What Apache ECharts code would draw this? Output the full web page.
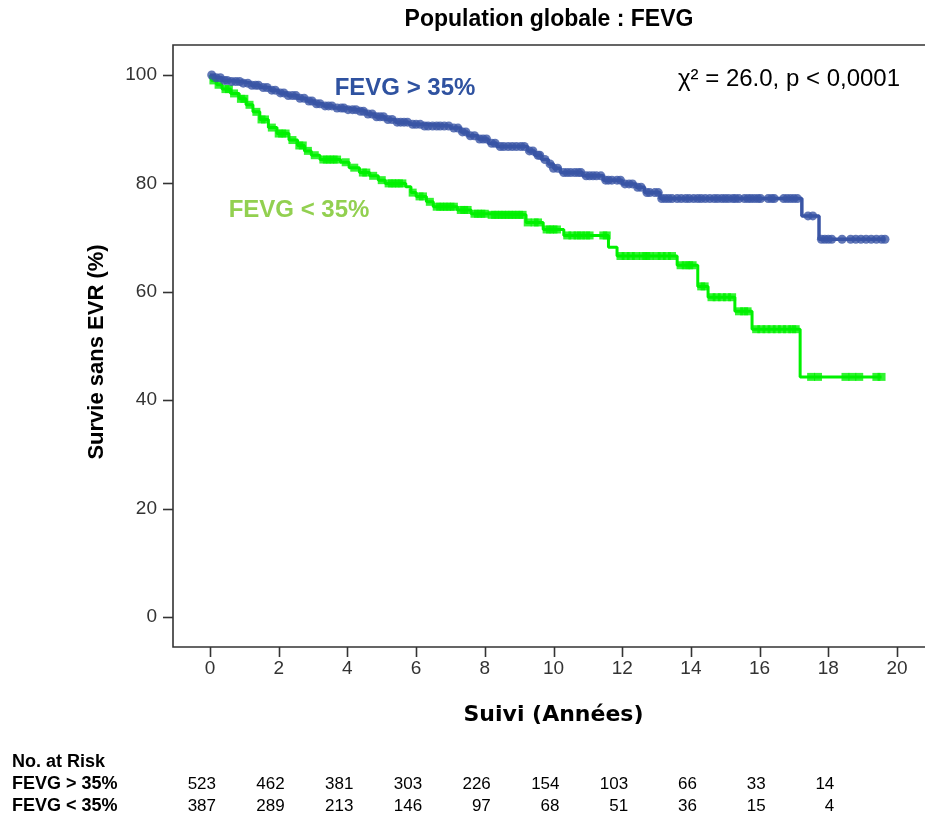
<!DOCTYPE html>
<html>
<head>
<meta charset="utf-8">
<script src="https://cdn.jsdelivr.net/npm/echarts@6/dist/echarts.min.js"></script>
<style>
  html, body { margin: 0; padding: 0; background: #fff; }
  #chart { width: 925px; height: 819px; }
</style>
</head>
<body>
<div id="chart"></div>
<script>
// Kaplan-Meier steps: [time (years), survival (%) from that time on]
const stepsHigh = [
  [0,100],[0.15,99.5],[0.35,99.0],[0.6,98.8],[0.9,98.5],[1.2,98.1],[1.45,97.7],[1.75,97.2],
  [2.0,96.7],[2.25,96.2],[2.55,95.7],[2.8,95.2],[3.05,94.7],[3.3,94.3],[3.6,93.9],[3.95,93.6],
  [4.3,93.3],[4.55,92.8],[4.8,92.3],[5.1,91.8],[5.4,91.3],[5.8,90.9],[6.2,90.6],[7.0,90.2],
  [7.3,89.5],[7.5,88.8],[7.8,88.2],[8.1,87.4],[8.35,86.8],[9.25,86.0],[9.45,85.2],[9.65,84.4],
  [9.85,83.6],[10.0,82.8],[10.2,82.0],[10.85,81.4],[11.45,80.6],[12.0,79.9],[12.4,79.3],
  [12.65,78.3],[13.1,77.2],[17.23,74.0],[17.73,69.7],[19.65,69.7]
];
const stepsLow = [
  [0,100],[0.05,99.0],[0.2,98.2],[0.35,97.4],[0.6,96.6],[0.85,95.6],[1.05,94.5],[1.25,93.2],
  [1.45,91.8],[1.7,90.3],[1.95,89.2],[2.3,88.0],[2.55,87.0],[2.75,86.0],[2.95,85.2],[3.2,84.4],
  [3.8,83.9],[4.05,82.9],[4.35,82.0],[4.65,81.4],[4.9,80.6],[5.1,80.0],[5.7,79.4],[5.85,78.3],
  [6.0,77.6],[6.3,76.6],[6.5,75.7],[7.2,75.1],[7.6,74.4],[8.1,74.2],[9.2,72.8],[9.7,71.5],
  [10.3,70.4],[11.6,68.2],[11.85,66.6],[13.6,64.9],[14.2,61.0],[14.5,59.0],[15.28,56.4],
  [15.78,53.1],[17.18,44.3],[19.55,44.3]
];

// Censoring times (years)
const censorHigh = [
  0.05,0.18,0.3,0.42,0.5,0.63,0.75,0.86,0.97,1.1,1.22,1.33,1.41,1.55,1.66,1.8,1.9,2.05,2.15,
  2.28,2.4,2.5,2.62,2.74,2.88,2.97,3.1,3.2,3.35,3.45,3.55,3.7,3.82,3.9,4.02,4.15,4.25,4.38,
  4.47,4.6,4.72,4.85,4.95,5.05,5.18,5.3,5.45,5.55,5.65,5.75,5.9,6.0,6.12,6.25,6.35,6.48,6.6,
  6.7,6.82,6.95,7.1,7.22,7.35,7.45,7.58,7.7,7.85,7.95,8.05,8.2,8.3,8.45,8.55,8.68,8.8,8.92,
  9.05,9.15,9.3,9.4,9.55,9.6,9.75,9.9,10.0,10.12,10.3,10.4,10.5,10.62,10.72,10.8,10.95,11.05,
  11.15,11.25,11.38,11.52,11.6,11.7,11.85,11.95,12.08,12.2,12.3,12.45,12.55,12.72,12.8,12.95,
  13.05,13.15,13.25,13.35,13.45,13.6,13.72,13.85,13.95,14.08,14.2,14.3,14.42,14.55,14.68,
  14.78,14.9,15.0,15.1,15.22,15.3,15.4,15.56,15.66,15.75,15.85,15.95,16.03,16.25,16.35,
  16.43,16.7,16.8,16.9,17.0,17.1,17.41,17.55,17.8,17.9,18.0,18.1,18.4,18.65,18.8,18.95,
  19.1,19.25,19.4,19.55,19.65
];
const censorLow = [
  0.1,0.25,0.45,0.55,0.7,0.9,1.0,1.15,1.35,1.5,1.6,1.8,2.0,2.1,2.2,2.4,2.6,2.7,2.85,3.05,
  3.3,3.4,3.5,3.6,3.7,3.95,4.2,4.45,4.55,4.75,5.0,5.2,5.3,5.4,5.5,5.6,5.9,6.1,6.2,6.4,6.6,
  6.7,6.8,6.9,7.0,7.1,7.3,7.4,7.5,7.7,7.8,7.9,8.0,8.2,8.3,8.4,8.5,8.6,8.7,8.8,8.9,9.0,9.1,
  9.25,9.45,9.55,9.8,9.9,10.0,10.1,10.4,10.55,10.7,10.8,10.95,11.05,11.45,11.55,11.95,
  12.1,12.25,12.4,12.6,12.7,12.8,13.0,13.15,13.3,13.45,13.7,13.85,13.95,14.05,14.3,14.4,
  14.6,14.75,14.9,15.05,15.2,15.4,15.55,15.65,15.9,16.05,16.2,16.35,16.5,16.65,16.8,16.95,
  17.05,17.5,17.7,18.5,18.7,18.9,19.4,19.55
];

// Axis tick positions
const xTicks = [0, 2, 4, 6, 8, 10, 12, 14, 16, 18, 20];
const yTicks = [0, 20, 40, 60, 80, 100];

// Number at risk table
const riskTimes = [0, 2, 4, 6, 8, 10, 12, 14, 16, 18];
const riskHigh = [523, 462, 381, 303, 226, 154, 103, 66, 33, 14];
const riskLow = [387, 289, 213, 146, 97, 68, 51, 36, 15, 4];

const groupHigh = 'FEVG > 35%';
const groupLow = 'FEVG < 35%';

const BLUE = '#3a55a5';
const GREEN = '#00f000';
const SANS = '"Liberation Sans", Arial, sans-serif';
const WIDE = '"DejaVu Sans", "Liberation Sans", sans-serif';
const AXIS = '#333';

function survivalAt(steps, t) {
  let v = steps[0][1];
  for (const [time, s] of steps) { if (time <= t) v = s; else break; }
  return v;
}
const censorPts = (steps, times) => times.map(t => [t, survivalAt(steps, t)]);

const chart = echarts.init(document.getElementById('chart'), null, { renderer: 'canvas' });

// Frame: left edge and baseline of the plot box
const FRAME_LEFT = 173, FRAME_TOP = 45, FRAME_BOTTOM = 647;

const option = {
  animation: false,
  backgroundColor: '#fff',
  grid: { left: 210, right: 28, top: 75, bottom: 202 },
  xAxis: {
    type: 'value', min: 0, max: 20, interval: 2, offset: 30,
    name: 'Suivi (Années)', nameLocation: 'middle', nameGap: 57,
    nameTextStyle: { fontFamily: WIDE, fontWeight: 'bold', fontSize: 22, color: '#000' },
    axisLine: { show: false },
    axisTick: { show: false },
    axisLabel: { fontFamily: SANS, fontSize: 19, color: AXIS, margin: 12 },
    splitLine: { show: false }
  },
  yAxis: {
    type: 'value', min: 0, max: 100, interval: 20, offset: 37,
    axisLine: { show: false },
    axisTick: { show: false },
    axisLabel: { fontFamily: SANS, fontSize: 19, color: AXIS, margin: 16 },
    splitLine: { show: false }
  },
  series: [
    {
      name: groupLow, type: 'line', step: 'end', data: stepsLow, showSymbol: false,
      lineStyle: { color: GREEN, width: 3 }, z: 2
    },
    {
      name: groupLow + ' censure', type: 'scatter', data: censorPts(stepsLow, censorLow),
      symbol: 'rect', symbolSize: 8, itemStyle: { color: GREEN }, z: 2
    },
    {
      name: groupHigh, type: 'line', step: 'end', data: stepsHigh, showSymbol: false,
      lineStyle: { color: BLUE, width: 3.5 }, z: 3
    },
    {
      name: groupHigh + ' censure', type: 'scatter', data: censorPts(stepsHigh, censorHigh),
      symbol: 'circle', symbolSize: 9, itemStyle: { color: BLUE }, z: 3
    }
  ]
};
chart.setOption(option);

const graphics = [
  { type: 'polyline', shape: { points: [[940, FRAME_TOP], [FRAME_LEFT, FRAME_TOP], [FRAME_LEFT, FRAME_BOTTOM], [940, FRAME_BOTTOM]] },
    style: { stroke: AXIS, lineWidth: 1.6, fill: null }, z: 10 },
  { type: 'text', x: 549, y: 20, style: { text: 'Population globale : FEVG', fontFamily: SANS,
    fontWeight: 'bold', fontSize: 23, fill: '#000', textAlign: 'center', textVerticalAlign: 'middle' } },
  { type: 'text', x: 97, y: 352, rotation: Math.PI / 2, style: { text: 'Survie sans EVR (%)',
    fontFamily: SANS, fontWeight: 'bold', fontSize: 22, fill: '#000', textAlign: 'center',
    textVerticalAlign: 'middle' } },
  { type: 'text', x: 405, y: 88, style: { text: groupHigh, fontFamily: SANS, fontWeight: 'bold',
    fontSize: 24, fill: '#2f52a0', textAlign: 'center', textVerticalAlign: 'middle' } },
  { type: 'text', x: 299, y: 210, style: { text: groupLow, fontFamily: SANS, fontWeight: 'bold',
    fontSize: 24, fill: '#92d050', textAlign: 'center', textVerticalAlign: 'middle' } },
  { type: 'text', x: 789, y: 79, style: { text: 'χ² = 26.0, p < 0,0001', fontFamily: SANS,
    fontSize: 24, fill: '#000', textAlign: 'center', textVerticalAlign: 'middle' } },
  { type: 'text', x: 12, y: 762, style: { text: 'No. at Risk', fontFamily: SANS, fontWeight: 'bold',
    fontSize: 18, fill: '#000', textVerticalAlign: 'middle' } },
  { type: 'text', x: 12, y: 784, style: { text: groupHigh, fontFamily: SANS, fontWeight: 'bold',
    fontSize: 18, fill: '#000', textVerticalAlign: 'middle' } },
  { type: 'text', x: 12, y: 806, style: { text: groupLow, fontFamily: SANS, fontWeight: 'bold',
    fontSize: 18, fill: '#000', textVerticalAlign: 'middle' } }
];

// Outward ticks on the frame
xTicks.forEach(t => {
  const px = Math.round(chart.convertToPixel({ xAxisIndex: 0 }, t)) + 0.5;
  graphics.push({ type: 'line', shape: { x1: px, y1: FRAME_BOTTOM, x2: px, y2: FRAME_BOTTOM + 10 },
    style: { stroke: AXIS, lineWidth: 1.6 }, z: 10 });
});
yTicks.forEach(v => {
  const py = Math.round(chart.convertToPixel({ yAxisIndex: 0 }, v)) + 0.5;
  graphics.push({ type: 'line', shape: { x1: FRAME_LEFT - 10, y1: py, x2: FRAME_LEFT, y2: py },
    style: { stroke: AXIS, lineWidth: 1.6 }, z: 10 });
});

// Number-at-risk counts aligned under the time axis
riskTimes.forEach((t, i) => {
  const px = chart.convertToPixel({ xAxisIndex: 0 }, t) + 6;
  [[riskHigh[i], 784], [riskLow[i], 806]].forEach(([n, y]) => {
    graphics.push({ type: 'text', x: px, y: y, style: { text: String(n), fontFamily: SANS,
      fontSize: 17, fill: '#000', textAlign: 'right', textVerticalAlign: 'middle' } });
  });
});
chart.setOption({ graphic: graphics });
</script>
</body>
</html>
